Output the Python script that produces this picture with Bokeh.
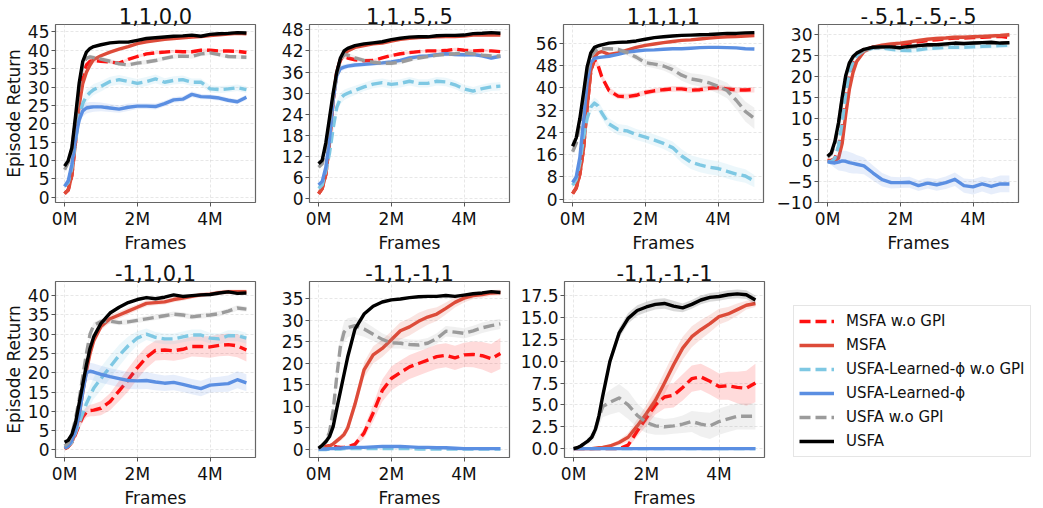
import numpy as np
from bokeh.plotting import figure
from bokeh.models import Range1d, FixedTicker, Legend, LegendItem
from bokeh.layouts import row, column
from bokeh.embed import file_html
from bokeh.resources import INLINE

FONT = "DejaVu Sans"

# ---------------- data ----------------
frames_m = [0, 0.1, 0.2, 0.3, 0.4, 0.5, 0.6, 0.7, 0.8, 1.0, 1.25, 1.5, 1.75, 2.0,
            2.25, 2.5, 2.75, 3.0, 3.25, 3.5, 3.75, 4.0, 4.25, 4.5, 4.75, 5.0]
x_ticks = [0, 2, 4]
x_tick_labels = ["0M", "2M", "4M"]

series_names = ["MSFA w.o GPI", "MSFA", "USFA-Learned-ϕ w.o GPI",
                "USFA-Learned-ϕ", "USFA w.o GPI", "USFA"]

panel_titles = ["1,1,0,0", "1,1,.5,.5", "1,1,1,1", "-.5,1,-.5,-.5",
                "-1,1,0,1", "-1,1,-1,1", "-1,1,-1,-1"]

# panel 1: 1,1,0,0
p1_msfa_nogpi = [1, 2, 6, 15, 26, 33, 36, 37, 37.2, 37, 36.8, 36.5, 37.5, 38.3, 39, 39.3, 39.5, 39.7, 39.6, 39.6, 40, 40, 39.8, 39.8, 39.7, 39.4]
p1_msfa = [1, 2, 6, 15, 25, 31, 34, 36, 37.5, 38.5, 39.5, 40.3, 41, 41.8, 42.3, 42.6, 43, 43.2, 43.4, 43.6, 43.7, 44, 44.2, 44.4, 44.6, 44.5]
p1_lphi_nogpi = [3, 4, 8, 15, 22, 25.5, 27.5, 28.5, 29.3, 30.2, 31.5, 32, 31.5, 31, 31.5, 32.2, 31.3, 31.8, 32, 31.3, 31.3, 29.5, 29.3, 29.5, 29.8, 29.3]
p1_lphi = [3, 4.5, 9, 16, 21, 23.5, 24.3, 24.5, 24.6, 24.6, 24.3, 24, 24.5, 24.8, 24.8, 24.7, 25.5, 26.5, 26.7, 28, 27.4, 27.3, 27, 26.4, 26, 27.2]
p1_usfa_nogpi = [7.5, 9.5, 13, 21, 30, 36, 37.8, 38.2, 38, 37.6, 37, 36.3, 36, 36.5, 36.8, 37.2, 37.8, 38.3, 38.4, 38.3, 39, 39.3, 38.8, 38.3, 38.2, 38.1]
p1_usfa = [8.5, 10, 13.5, 22, 31, 37, 39.5, 40.5, 41, 41.5, 42, 42.2, 42.2, 42.7, 43.2, 43.4, 43.6, 43.8, 43.9, 44.1, 43.8, 44.3, 44.5, 44.6, 44.8, 44.7]
p1_msfa_nogpi_sd = [0.2, 0.3, 0.4, 0.6, 0.6, 0.5, 0.5, 0.5, 0.5, 0.4, 0.4, 0.4, 0.4, 0.4, 0.4, 0.4, 0.4, 0.4, 0.4, 0.4, 0.4, 0.4, 0.4, 0.4, 0.4, 0.4]
p1_lphi_nogpi_sd = [0.5, 0.6, 1, 1.5, 1.8, 1.8, 1.8, 1.6, 1.5, 1.4, 1.3, 1.3, 1.2, 1.2, 1.2, 1.2, 1.1, 1.1, 1.1, 1.0, 1.0, 1.0, 1.0, 0.9, 0.9, 0.9]
p1_lphi_sd = [0.5, 0.6, 1, 1.5, 1.6, 1.6, 1.5, 1.4, 1.3, 1.2, 1.1, 1.0, 1.0, 0.8, 0.8, 0.8, 0.8, 0.8, 0.8, 0.8, 0.7, 0.7, 0.7, 0.7, 0.7, 0.7]
p1_usfa_nogpi_sd = [0.3, 0.4, 0.6, 0.8, 0.8, 0.7, 0.6, 0.6, 0.6, 0.6, 0.6, 0.6, 0.6, 0.6, 0.6, 0.6, 0.6, 0.6, 0.6, 0.6, 0.6, 0.6, 0.6, 0.6, 0.6, 0.6]
p1_yticks = [0, 5, 10, 15, 20, 25, 30, 35, 40, 45]
p1_ylabels = ["0", "5", "10", "15", "20", "25", "30", "35", "40", "45"]

# panel 2: 1,1,.5,.5
p2_msfa_nogpi = [1.5, 3, 7, 16, 28, 36, 39.5, 40.3, 40, 39.5, 39.2, 39.3, 40, 40.7, 41.2, 41.5, 41.8, 42, 42, 42.1, 42.5, 42.2, 42, 42.1, 42, 41.8]
p2_msfa = [1.5, 3, 7, 16, 28, 36, 39.5, 41, 42, 43, 43.5, 44, 44.2, 44.8, 45.3, 45.6, 45.8, 45.9, 46, 46.1, 46.1, 46.2, 46.5, 46.5, 46.6, 46.5]
p2_lphi_nogpi = [3, 4, 8, 13, 20, 26, 28.5, 29.5, 30, 30.8, 31.8, 32.6, 33, 32.5, 32.8, 33.4, 32.8, 32.8, 33.4, 33.2, 32.4, 31.2, 30.6, 31.3, 31.8, 32]
p2_lphi = [4, 5, 9, 17, 28, 35, 37, 37.4, 37.7, 38, 38.2, 38.4, 38.6, 38.9, 39.3, 40, 40.4, 40.6, 40.9, 41.2, 41, 40.9, 41, 40.6, 40, 40.5]
p2_usfa_nogpi = [9, 10, 15, 22, 29, 35, 39.5, 41, 40.8, 40, 39.3, 38.8, 38.5, 38.5, 38.8, 39.5, 40, 40.4, 40.8, 41, 41.2, 41.5, 41.2, 40.8, 40.6, 40.5]
p2_usfa = [10, 11, 16, 23, 30, 36, 40, 42, 42.7, 43.5, 44, 44.3, 44.6, 45.2, 45.6, 45.9, 46, 46, 46.3, 46.4, 46.4, 46.5, 46.9, 47, 47.2, 47]
p2_msfa_nogpi_sd = [0.2, 0.3, 0.4, 0.6, 0.6, 0.5, 0.5, 0.5, 0.5, 0.4, 0.4, 0.4, 0.4, 0.4, 0.4, 0.4, 0.4, 0.4, 0.4, 0.4, 0.4, 0.4, 0.4, 0.4, 0.4, 0.4]
p2_lphi_nogpi_sd = [0.5, 0.6, 1, 1.5, 1.8, 1.8, 1.6, 1.5, 1.4, 1.3, 1.2, 1.2, 1.2, 1.2, 1.2, 1.2, 1.2, 1.2, 1.2, 1.2, 1.2, 1.2, 1.2, 1.2, 1.2, 1.2]
p2_lphi_sd = [0.5, 0.6, 1, 1.2, 1.2, 1.0, 0.9, 0.8, 0.7, 0.7, 0.6, 0.6, 0.6, 0.6, 0.6, 0.6, 0.6, 0.6, 0.6, 0.6, 0.6, 0.6, 0.6, 0.6, 0.6, 0.6]
p2_usfa_nogpi_sd = [0.3, 0.4, 0.6, 0.8, 0.8, 0.7, 0.7, 0.7, 0.7, 0.6, 0.6, 0.6, 0.6, 0.6, 0.6, 0.6, 0.6, 0.6, 0.6, 0.6, 0.6, 0.6, 0.6, 0.6, 0.6, 0.6]
p2_yticks = [0, 6, 12, 18, 24, 30, 36, 42, 48]
p2_ylabels = ["0", "6", "12", "18", "24", "30", "36", "42", "48"]

# panel 3: 1,1,1,1
p3_msfa_nogpi = [2, 4, 9, 18, 33, 46, 50, 48, 44, 39, 37, 36.8, 37.3, 38.3, 38.9, 39.3, 39.6, 39.6, 39.1, 39.3, 39.8, 40, 39.6, 39.2, 39.2, 39.3]
p3_msfa = [2, 4, 9, 18, 33, 46, 51, 52.5, 53, 52, 52.5, 53.5, 54.5, 55.2, 55.7, 56.2, 56.6, 57, 57.2, 57.5, 57.8, 58.1, 58.3, 58.4, 58.6, 58.7]
p3_lphi_nogpi = [5, 7, 13, 22, 29, 33, 34.5, 33.5, 31, 27, 25, 24.5, 23.2, 22.3, 21.2, 20, 18.5, 15.5, 13.3, 12.3, 11.5, 11, 10, 9, 8.3, 6.5]
p3_lphi = [6, 8, 15, 28, 42, 49, 50.5, 50.8, 51, 51.3, 52, 52.8, 53.2, 53.5, 53.6, 53.8, 54, 54, 54.2, 54.4, 54.5, 54.5, 54.4, 54.3, 54, 53.9]
p3_usfa_nogpi = [17, 20, 27, 37, 46, 51, 53, 54, 54, 54, 53.8, 52.6, 51, 49, 48.5, 47.8, 46.5, 44.5, 43.2, 42.6, 41.8, 40.5, 39, 35.5, 31.5, 29]
p3_usfa = [19, 22, 29, 38, 47.5, 52.5, 54.5, 55, 55.4, 56, 56.3, 56.4, 56.8, 57.4, 58, 58.3, 58.6, 58.8, 58.9, 59, 59.1, 59.3, 59.5, 59.5, 59.7, 59.8]
p3_msfa_nogpi_sd = [0.3, 0.5, 0.8, 1, 1.2, 1.2, 1.2, 1.2, 1.2, 1.2, 1, 1, 1, 1, 1, 1, 1, 1, 1, 1, 1, 1, 1, 1, 1, 1]
p3_lphi_nogpi_sd = [0.5, 0.6, 1, 1.5, 1.8, 2, 2, 2, 2, 2, 2, 2, 2, 2, 2, 2, 2.2, 2.4, 2.5, 2.6, 2.6, 2.6, 2.6, 2.5, 2.4, 2.2]
p3_usfa_nogpi_sd = [0.5, 0.6, 0.8, 1, 1, 0.8, 0.8, 0.8, 0.8, 0.8, 0.8, 1, 1.2, 1.3, 1.5, 1.6, 1.8, 2, 2, 2.2, 2.4, 2.6, 2.8, 3.2, 3.6, 3.8]
p3_yticks = [0, 8, 16, 24, 32, 40, 48, 56]
p3_ylabels = ["0", "8", "16", "24", "32", "40", "48", "56"]

# panel 4: -.5,1,-.5,-.5
p4_msfa_nogpi = [0, 0, 0.5, 3, 8, 15, 20, 23, 25, 26.5, 27, 27.3, 27.5, 27.7, 28, 28.3, 28.6, 28.8, 29, 29.2, 29.2, 29.3, 29.4, 29.5, 29.6, 29.3]
p4_msfa = [0, -0.1, 0, 0.5, 4, 11, 17, 21, 23.6, 26, 27, 27.5, 27.8, 28, 28.3, 28.6, 28.9, 29.1, 29.2, 29.4, 29.4, 29.5, 29.6, 29.7, 29.8, 30]
p4_lphi_nogpi = [-0.3, -0.3, 0.5, 3.5, 9, 16, 21, 23.5, 25, 26.2, 26.8, 26.8, 26.5, 26.3, 26.2, 26.4, 26.7, 26.8, 27, 27, 27, 27.1, 27.2, 27.3, 27.4, 27.5]
p4_lphi = [-0.3, -0.5, -0.6, -0.4, -0.1, -0.2, -0.5, -0.7, -0.9, -1.3, -3, -4.6, -5.3, -5.3, -5.2, -6, -5.4, -5.8, -5.3, -4.5, -6, -6.3, -5.6, -6.2, -5.6, -5.6]
p4_usfa_nogpi = [0.8, 1.5, 4, 8.5, 14.5, 20, 23, 24.6, 25.4, 26.3, 26.8, 27, 27, 26.8, 27, 27.2, 27.4, 27.5, 27.6, 27.8, 27.8, 27.9, 28, 28, 27.9, 28]
p4_usfa = [1, 1.8, 4.5, 9, 15, 20.3, 23.3, 24.8, 25.6, 26.5, 27, 27.1, 27.1, 26.9, 27.2, 27.4, 27.6, 27.6, 27.8, 28, 27.9, 28, 28.1, 28.2, 28, 28.1]
p4_msfa_sd = [0.1, 0.2, 0.3, 0.5, 0.8, 1, 1, 0.8, 0.6, 0.5, 0.5, 0.5, 0.5, 0.5, 0.5, 0.5, 0.5, 0.5, 0.5, 0.5, 0.5, 0.5, 0.5, 0.5, 0.5, 0.5]
p4_lphi_nogpi_sd = [0.2, 0.3, 0.5, 0.8, 1, 1, 0.9, 0.8, 0.7, 0.6, 0.6, 0.6, 0.6, 0.6, 0.6, 0.6, 0.6, 0.6, 0.6, 0.6, 0.6, 0.6, 0.6, 0.6, 0.6, 0.6]
p4_lphi_sd = [0.3, 0.6, 1.2, 2, 2.4, 2.5, 2.5, 2.4, 2.2, 2, 1.8, 1.6, 1.4, 1.3, 1.3, 1.3, 1.3, 1.4, 1.5, 1.6, 1.7, 1.8, 1.8, 1.9, 2.0, 2.0]
p4_yticks = [-10, -5, 0, 5, 10, 15, 20, 25, 30]
p4_ylabels = ["\u221210", "\u22125", "0", "5", "10", "15", "20", "25", "30"]

# panel 5: -1,1,0,1
p5_msfa_nogpi = [0.3, 0.8, 2, 4, 6.5, 8.5, 9.8, 10.2, 10.3, 10.8, 12.5, 15.3, 18.2, 21.3, 24, 25.8, 25.9, 25.7, 26.1, 26.8, 26.8, 26.7, 27.1, 27.3, 27, 25.9]
p5_msfa = [0.3, 0.8, 2, 4.5, 9, 15, 20.5, 25, 28.3, 32, 34, 35, 36, 37, 38, 38.2, 38.4, 39, 39.4, 39.8, 40.2, 40.4, 40.8, 41, 41, 41]
p5_lphi_nogpi = [0.5, 1, 2, 4.5, 7, 9.5, 12, 14, 16, 18.5, 21.5, 24.5, 27, 29, 30, 29.2, 28.8, 28.8, 29.3, 29.8, 29.8, 29, 28.8, 29.6, 29.6, 29]
p5_lphi = [0.5, 1, 2.5, 5, 9, 15, 20, 20.4, 20.2, 19.6, 19, 18.5, 18, 17.9, 18, 17.6, 17.3, 17.5, 17, 16.4, 15.9, 16.8, 17, 17.2, 18.2, 17.4]
p5_usfa_nogpi = [1, 1.8, 4, 8, 13, 19, 25, 30, 32.3, 33.3, 33.4, 33, 33.2, 33.6, 34, 34.4, 34.8, 35.2, 35, 34.5, 34.8, 35, 35.3, 36, 36.8, 36.5]
p5_usfa = [2, 2.5, 4, 7, 12, 17, 22, 26.3, 29.3, 32.8, 35.5, 37, 38.2, 39, 39.5, 39.2, 39.6, 40.2, 39.8, 40, 40.2, 40.3, 40.7, 41, 40.6, 40.7]
p5_msfa_nogpi_sd = [0.2, 0.4, 0.8, 1, 1.2, 1.3, 1.4, 1.5, 1.6, 1.8, 2.2, 2.6, 3, 3, 2.8, 2.6, 2.6, 2.6, 2.6, 2.6, 2.7, 2.8, 2.8, 2.9, 3, 3]
p5_msfa_sd = [0.2, 0.3, 0.5, 0.8, 1, 1.2, 1.2, 1.2, 1.2, 1, 1, 0.9, 0.9, 0.8, 0.8, 0.7, 0.7, 0.7, 0.7, 0.6, 0.6, 0.6, 0.6, 0.6, 0.6, 0.6]
p5_lphi_nogpi_sd = [0.2, 0.4, 0.8, 1.2, 1.6, 2, 2.4, 2.6, 2.8, 3, 3, 2.8, 2.4, 1.8, 1.5, 1.4, 1.4, 1.4, 1.4, 1.4, 1.4, 1.4, 1.4, 1.4, 1.4, 1.4]
p5_lphi_sd = [0.2, 0.4, 0.8, 1.2, 1.6, 2, 2.2, 2.2, 2.2, 2.2, 2.2, 2.2, 2.2, 2.2, 2.2, 2.1, 2, 2, 2, 2, 2, 2, 2, 2.1, 2.2, 2.2]
p5_usfa_nogpi_sd = [0.3, 0.4, 0.6, 0.8, 1, 1, 1, 0.9, 0.8, 0.7, 0.7, 0.7, 0.7, 0.7, 0.7, 0.7, 0.7, 0.7, 0.7, 0.7, 0.7, 0.7, 0.7, 0.7, 0.7, 0.7]
p5_yticks = [0, 5, 10, 15, 20, 25, 30, 35, 40]
p5_ylabels = ["0", "5", "10", "15", "20", "25", "30", "35", "40"]

# panel 6: -1,1,-1,1
p6_msfa_nogpi = [0.2, 0.4, 0.7, 0.9, 0.8, 0.6, 0.5, 0.5, 0.6, 1.2, 3.8, 8.5, 13.7, 16.5, 17.9, 19.2, 20, 20.8, 21.6, 21.9, 21.3, 22, 22.1, 21.8, 21.1, 22.3]
p6_msfa = [0.2, 0.3, 0.5, 0.8, 1.3, 2, 2.7, 3.5, 5, 10.5, 18.5, 22, 23.5, 25.5, 27.6, 28.5, 29.8, 30.8, 31.5, 32.8, 34.2, 35.2, 35.8, 36, 36.4, 36.5]
p6_lphi_nogpi = [0, 0, 0, 0.1, 0.1, 0.1, 0.1, 0.2, 0.2, 0.2, 0.2, 0.2, 0.2, 0.2, 0.2, 0.2, 0.1, 0.1, 0.1, 0.1, 0.1, 0.1, 0.1, 0.1, 0.1, 0.1]
p6_lphi = [0.1, 0.1, 0.1, 0.2, 0.2, 0.3, 0.3, 0.4, 0.4, 0.5, 0.5, 0.6, 0.7, 0.7, 0.7, 0.6, 0.5, 0.5, 0.4, 0.4, 0.3, 0.2, 0.2, 0.2, 0.2, 0.2]
p6_usfa_nogpi = [0.3, 0.8, 2, 4, 9, 17, 24, 27.3, 28.3, 28.8, 28, 26.8, 25.6, 24.8, 24.7, 24.4, 24.3, 24.7, 25.8, 27.5, 27.3, 27, 27.6, 28.3, 28.8, 29.2]
p6_usfa = [0.3, 1, 1.8, 3, 5.3, 9.5, 13.5, 17.5, 21.5, 28, 31.5, 33.3, 34.3, 34.8, 35, 35.3, 35.5, 35.6, 35.6, 35.8, 35.6, 35.9, 36.2, 36.4, 36.7, 36.5]
p6_msfa_nogpi_sd = [0.1, 0.2, 0.3, 0.3, 0.3, 0.3, 0.3, 0.3, 0.4, 0.6, 1.2, 2, 2.6, 2.8, 2.8, 2.8, 2.8, 2.8, 2.8, 2.8, 2.8, 2.8, 3, 3.2, 3.4, 3.6]
p6_msfa_sd = [0.1, 0.2, 0.3, 0.4, 0.5, 0.6, 0.7, 0.8, 1, 1.4, 1.8, 2, 2, 2, 2, 2, 2, 1.8, 1.6, 1.4, 1.2, 1, 0.8, 0.7, 0.7, 0.7]
p6_usfa_nogpi_sd = [0.2, 0.4, 0.8, 1.2, 1.8, 2.2, 2.4, 2.4, 2.2, 2, 1.8, 1.6, 1.4, 1.3, 1.2, 1.2, 1.2, 1.2, 1.2, 1.2, 1.2, 1.2, 1.2, 1.2, 1.2, 1.2]
p6_yticks = [0, 5, 10, 15, 20, 25, 30, 35]
p6_ylabels = ["0", "5", "10", "15", "20", "25", "30", "35"]

# panel 7: -1,1,-1,-1
p7_msfa_nogpi = [0, 0, 0, 0, 0, 0, 0, 0, 0, 0, 0, 0.4, 2, 3.5, 5, 5.9, 6.1, 7, 8, 8.2, 7.7, 7.1, 7.2, 7, 6.9, 7.5]
p7_msfa = [0, 0, 0, 0, 0, 0, 0.05, 0.1, 0.15, 0.3, 0.7, 1.3, 2.6, 4, 5.5, 7.5, 9.6, 11.5, 12.8, 13.6, 14.3, 15.1, 15.4, 15.9, 16.4, 16.6]
p7_lphi_nogpi = [0, 0, 0, 0, 0, 0, 0, 0, 0, 0, 0, 0, 0, 0, 0, 0, 0, 0, 0, 0, 0, 0, 0, 0, 0, 0]
p7_lphi = [0, 0, 0, 0, 0, 0, 0, 0, 0, 0, 0, 0, 0, 0, 0, 0, 0, 0, 0, 0, 0, 0, 0, 0, 0, 0]
p7_usfa_nogpi = [0, 0.1, 0.3, 0.6, 0.9, 1.3, 2.2, 3.6, 4.8, 5.3, 5.8, 5.0, 3.8, 3, 2.6, 2.5, 2.6, 2.8, 3.1, 2.8, 2.6, 3.1, 3.4, 3.7, 3.7, 3.7]
p7_usfa = [0, 0.1, 0.3, 0.6, 0.9, 1.3, 2.2, 3.8, 6, 10, 13.2, 14.9, 15.8, 16.2, 16.5, 16.6, 16.3, 16.1, 16.5, 17, 17.3, 17.4, 17.6, 17.7, 17.6, 17]
p7_msfa_nogpi_sd = [0, 0, 0, 0, 0, 0, 0, 0, 0, 0, 0.1, 0.3, 0.6, 0.9, 1.1, 1.3, 1.4, 1.5, 1.5, 1.5, 1.5, 1.5, 1.6, 1.8, 2, 2.2]
p7_msfa_sd = [0, 0, 0, 0, 0, 0, 0.05, 0.1, 0.1, 0.2, 0.3, 0.5, 0.8, 1, 1.2, 1.3, 1.3, 1.3, 1.2, 1.1, 1, 0.9, 0.8, 0.7, 0.5, 0.4]
p7_usfa_nogpi_sd = [0, 0.05, 0.1, 0.2, 0.4, 0.6, 0.8, 1, 1.2, 1.4, 1.6, 1.6, 1.4, 1.2, 1, 0.9, 0.9, 1, 1.2, 1.4, 1.5, 1.5, 1.5, 1.5, 1.5, 1.5]
p7_usfa_sd = [0, 0.05, 0.1, 0.15, 0.2, 0.25, 0.3, 0.4, 0.5, 0.6, 0.6, 0.6, 0.6, 0.6, 0.6, 0.6, 0.6, 0.5, 0.5, 0.5, 0.5, 0.5, 0.5, 0.5, 0.5, 0.5]
p7_yticks = [0, 2.5, 5, 7.5, 10, 12.5, 15, 17.5]
p7_ylabels = ["0.0", "2.5", "5.0", "7.5", "10.0", "12.5", "15.0", "17.5"]

# ---------------- styles ----------------
series_colors = ["#ff1010", "#dd4b39", "#7ec8e3", "#5b8fe2", "#9b9b9b", "#000000"]
series_dash = ["11 5", "solid", "11 5", "solid", "11 5", "solid"]

panels = [
    ([p1_msfa_nogpi, p1_msfa, p1_lphi_nogpi, p1_lphi, p1_usfa_nogpi, p1_usfa],
     {0: p1_msfa_nogpi_sd, 2: p1_lphi_nogpi_sd, 3: p1_lphi_sd, 4: p1_usfa_nogpi_sd},
     p1_yticks, p1_ylabels),
    ([p2_msfa_nogpi, p2_msfa, p2_lphi_nogpi, p2_lphi, p2_usfa_nogpi, p2_usfa],
     {0: p2_msfa_nogpi_sd, 2: p2_lphi_nogpi_sd, 3: p2_lphi_sd, 4: p2_usfa_nogpi_sd},
     p2_yticks, p2_ylabels),
    ([p3_msfa_nogpi, p3_msfa, p3_lphi_nogpi, p3_lphi, p3_usfa_nogpi, p3_usfa],
     {0: p3_msfa_nogpi_sd, 2: p3_lphi_nogpi_sd, 4: p3_usfa_nogpi_sd},
     p3_yticks, p3_ylabels),
    ([p4_msfa_nogpi, p4_msfa, p4_lphi_nogpi, p4_lphi, p4_usfa_nogpi, p4_usfa],
     {1: p4_msfa_sd, 2: p4_lphi_nogpi_sd, 3: p4_lphi_sd},
     p4_yticks, p4_ylabels),
    ([p5_msfa_nogpi, p5_msfa, p5_lphi_nogpi, p5_lphi, p5_usfa_nogpi, p5_usfa],
     {0: p5_msfa_nogpi_sd, 1: p5_msfa_sd, 2: p5_lphi_nogpi_sd, 3: p5_lphi_sd, 4: p5_usfa_nogpi_sd},
     p5_yticks, p5_ylabels),
    ([p6_msfa_nogpi, p6_msfa, p6_lphi_nogpi, p6_lphi, p6_usfa_nogpi, p6_usfa],
     {0: p6_msfa_nogpi_sd, 1: p6_msfa_sd, 4: p6_usfa_nogpi_sd},
     p6_yticks, p6_ylabels),
    ([p7_msfa_nogpi, p7_msfa, p7_lphi_nogpi, p7_lphi, p7_usfa_nogpi, p7_usfa],
     {0: p7_msfa_nogpi_sd, 1: p7_msfa_sd, 4: p7_usfa_nogpi_sd, 5: p7_usfa_sd},
     p7_yticks, p7_ylabels),
]

# layout geometry: (border_left, border_right)
FRAME_W = 200
row1_geom = [(52, 10), (44, 10), (44, 10), (44, 13)]
row2_geom = [(52, 10), (44, 8), (46, 5)]
row1_fh, row1_bt, row1_bb = 178, 24, 46
row2_fh, row2_bt, row2_bb = 176, 26, 42


def style_text_axis(ax):
    ax.major_label_text_font = FONT
    ax.major_label_text_font_size = "17px"
    ax.major_label_text_color = "#111111"
    ax.major_label_text_line_height = 1.0
    ax.axis_label_text_font = FONT
    ax.axis_label_text_font_size = "17px"
    ax.axis_label_text_font_style = "normal"
    ax.axis_label_text_color = "#111111"
    ax.axis_label_text_line_height = 1.0
    ax.axis_line_color = None
    ax.major_tick_in = 0
    ax.major_tick_out = 4
    ax.major_tick_line_color = "#555555"
    ax.minor_tick_line_color = None
    ax.major_label_standoff = 2
    ax.axis_label_standoff = 1


def make_panel(idx, geom, fh, bt, bb, show_ylabel):
    means, stds, yticks, ylabels = panels[idx]
    bl, br = geom
    x = np.array(frames_m)
    lows, highs = [], []
    for i, m in enumerate(means):
        m = np.array(m, dtype=float)
        s = np.array(stds[i], dtype=float) if i in stds else np.zeros_like(m)
        lows.append((m - s).min())
        highs.append((m + s).max())
    ylo, yhi = min(lows), max(highs)
    ypad = 0.05 * (yhi - ylo)
    xpad = 0.05 * (x.max() - x.min())

    p = figure(frame_width=FRAME_W, frame_height=fh,
               x_range=Range1d(x.min() - xpad, x.max() + xpad),
               y_range=Range1d(ylo - ypad, yhi + ypad),
               output_backend="svg", toolbar_location=None,
               min_border_left=bl, min_border_right=br,
               min_border_top=bt, min_border_bottom=bb,
               title=panel_titles[idx])
    p.title.align = "center"
    p.title.text_font = FONT
    p.title.text_font_size = "21px"
    p.title.text_font_style = "normal"
    p.title.text_color = "#111111"
    p.title.text_line_height = 1.0
    p.title.standoff = 1
    p.title.offset = 0

    p.background_fill_color = "white"
    p.border_fill_color = "white"
    p.outline_line_color = "#666666"
    p.outline_line_width = 1.2

    p.xaxis.ticker = FixedTicker(ticks=x_ticks)
    p.xaxis.major_label_overrides = {t: l for t, l in zip(x_ticks, x_tick_labels)}
    p.yaxis.ticker = FixedTicker(ticks=yticks)
    p.yaxis.major_label_overrides = {t: l for t, l in zip(yticks, ylabels)}
    p.xaxis.axis_label = "Frames"
    if show_ylabel:
        p.yaxis.axis_label = "Episode Return"
    style_text_axis(p.xaxis[0])
    style_text_axis(p.yaxis[0])
    p.grid.grid_line_color = "#bbbbbb"
    p.grid.grid_line_alpha = 0.45
    p.grid.grid_line_dash = "3 2"
    p.grid.grid_line_width = 0.8

    for i, m in enumerate(means):
        c = series_colors[i]
        if i in stds:
            mm = np.array(m, dtype=float)
            ss = np.array(stds[i], dtype=float)
            p.varea(x=x, y1=mm - ss, y2=mm + ss, fill_color=c, fill_alpha=0.15)
        p.line(x, m, line_color=c, line_width=3.4, line_dash=series_dash[i],
               line_join="round")
    return p


figs1 = [make_panel(i, row1_geom[i], row1_fh, row1_bt, row1_bb, i == 0) for i in range(4)]
figs2 = [make_panel(4 + i, row2_geom[i], row2_fh, row2_bt, row2_bb, i == 0) for i in range(3)]

# legend panel (frame starts right after the last plot of row 2)
leg = figure(frame_width=262, frame_height=row2_fh, output_backend="svg", toolbar_location=None,
             min_border_left=0, min_border_right=0, min_border_top=row2_bt,
             min_border_bottom=row2_bb,
             x_axis_location=None, y_axis_location=None,
             x_range=Range1d(0, 1), y_range=Range1d(0, 1))
leg.outline_line_color = None
leg.grid.visible = False
leg.background_fill_color = "white"
leg.border_fill_color = "white"
items = []
for i, name in enumerate(series_names):
    r = leg.line(x=np.array([np.nan]), y=np.array([np.nan]), line_color=series_colors[i],
                 line_width=3.4, line_dash=series_dash[i])
    items.append(LegendItem(label=name, renderers=[r]))
legend = Legend(items=items, location="top_left")
legend.margin = 24
legend.padding = 5
legend.spacing = 4
legend.glyph_width = 35
legend.glyph_height = 20
legend.label_height = 20
legend.label_standoff = 12
legend.label_text_font = FONT
legend.label_text_font_size = "15px"
legend.label_text_color = "#111111"
legend.border_line_color = "#cccccc"
legend.border_line_width = 1
legend.background_fill_color = "white"
legend.background_fill_alpha = 1.0
leg.add_layout(legend, "center")

layout = column(row(*figs1), row(*figs2, leg))

open("out.html", "w").write(file_html(layout, INLINE))
